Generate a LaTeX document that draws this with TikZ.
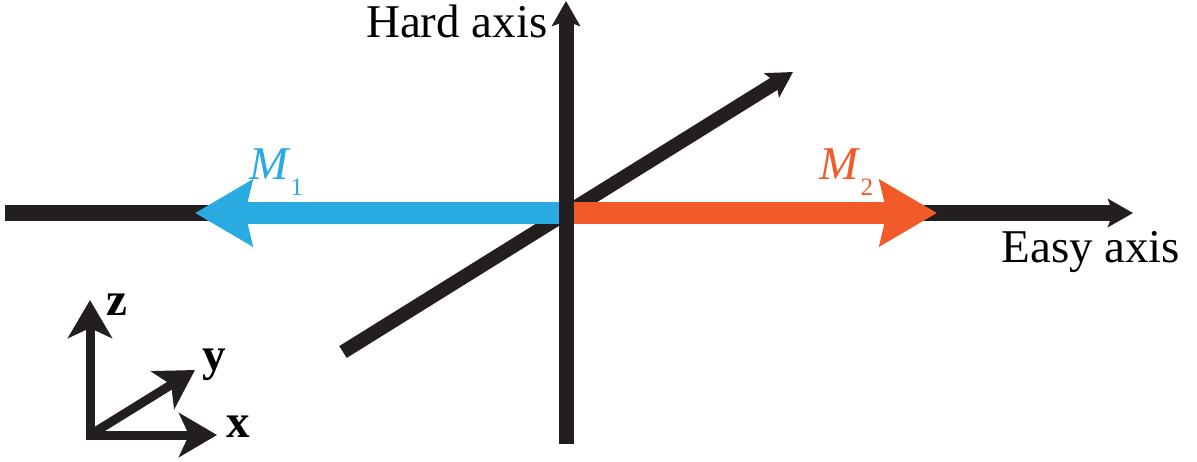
\documentclass[tikz,border=0pt]{standalone}
\usepackage{fontspec}
\setmainfont{Liberation Serif}
\usetikzlibrary{arrows.meta}
\definecolor{axisblack}{HTML}{231F20}
\definecolor{moneblue}{HTML}{29ABE2}
\definecolor{mtwored}{HTML}{F15A29}

\begin{document}
\begin{tikzpicture}[x=0.5pt, y=-0.5pt,
  axisline/.style={axisblack, line width=7.5pt, -{Stealth[length=12.5pt, width=14pt, inset=2.5pt]}},
  mvec/.style={line width=11pt, -{Stealth[length=28.5pt, width=32.5pt, inset=3.5pt]}},
  framevec/.style={axisblack, line width=4.5pt, -{Stealth[length=19pt, width=22pt, inset=5pt]}},
  lbl/.style={inner sep=0pt, font=\fontsize{23.5}{28}\selectfont},
  sub/.style={font=\fontsize{12.5}{13}\selectfont}
]
\useasboundingbox (0,0) rectangle (1197,461);
% axis points
\coordinate (o) at (566,213);
\coordinate (easyL) at (5,213);
\coordinate (easyR) at (1133,213);
\coordinate (hardB) at (566,444);
\coordinate (hardT) at (566,1);
\coordinate (diagB) at (343,352);
\coordinate (diagT) at (793,72);
\coordinate (m1tip) at (195,213);
\coordinate (m2tip) at (937,213);

% Easy axis and the diagonal
\draw[axisline, line width=8pt] (easyL) -- (easyR);
\draw[axisline, line width=7pt] (diagB) -- (diagT);

% M_1 and M_2
\draw[mvec, moneblue] (o) -- (m1tip);
\draw[mvec, mtwored] (o) -- (m2tip);

% Hard axis on top
\draw[axisline] (hardB) -- (hardT);

% Labels
\node[lbl, anchor=base east] (hard) at (548,37) {Hard axis};
\node[lbl, anchor=base west] (easy) at (1001,262) {Easy axis};
\node[lbl, moneblue, anchor=base west] (m1) at (249,179) {\textit{M}\raisebox{-8pt}{\fontsize{12.5}{13}\selectfont 1}};
\node[lbl, mtwored, anchor=base west] (m2) at (819,179) {\textit{M}\raisebox{-8pt}{\fontsize{12.5}{13}\selectfont 2}};

% Frame x, y, z
\coordinate (f0) at (90,435);
\coordinate (fz) at (90,300);
\coordinate (fx) at (217,435);
\coordinate (fy) at (195,370);
\draw[framevec, line cap=rect] (f0) -- (fz);
\draw[framevec, line cap=rect] (f0) -- (fx);
\draw[framevec] (f0) -- (fy);
\node[lbl, font=\fontsize{23.5}{28}\selectfont\bfseries, anchor=base west] (zl) at (106,315) {z};
\node[lbl, font=\fontsize{23.5}{28}\selectfont\bfseries, anchor=base west] (yl) at (202,370) {y};
\node[lbl, font=\fontsize{23.5}{28}\selectfont\bfseries, anchor=base west] (xl) at (226,437) {x};
\end{tikzpicture}
\end{document}
